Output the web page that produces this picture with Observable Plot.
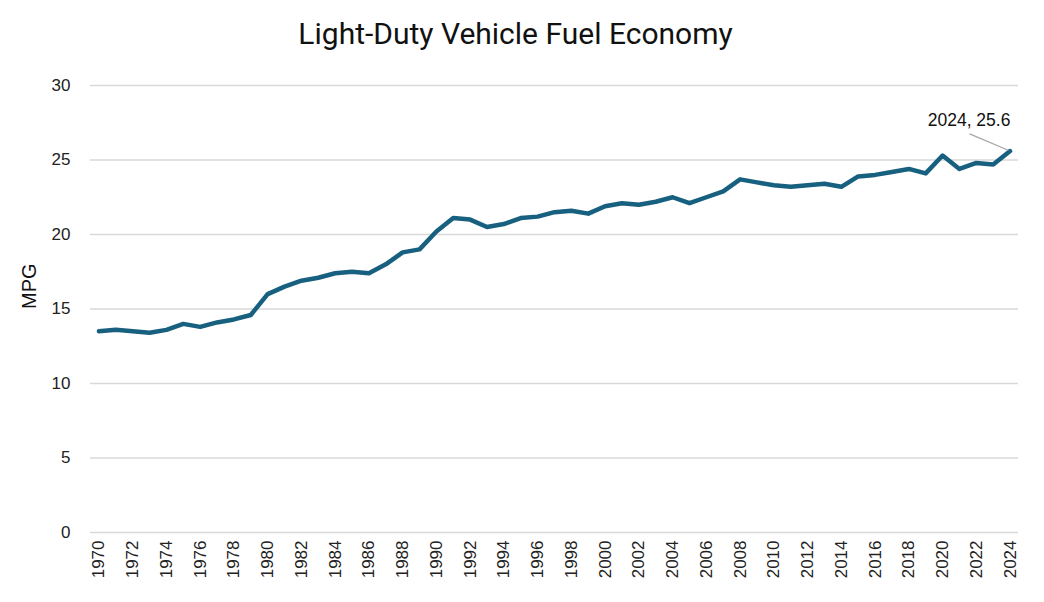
<!DOCTYPE html>
<html>
<head>
<meta charset="utf-8">
<script src="https://cdn.jsdelivr.net/npm/d3@7"></script>
<script src="https://cdn.jsdelivr.net/npm/@observablehq/plot@0.6"></script>
<style>
  html, body { margin: 0; padding: 0; background: #fff; }
  #wrap { width: 1044px; height: 602px; position: relative; font-family: "Liberation Sans", Arial, sans-serif; }
  #title { position: relative; height: 64px; text-align: center; }
  #title span { position: absolute; left: 0; right: 0; top: 16px; font-family: Roboto, "Open Sans", sans-serif; font-size: 30px; line-height: 35px; color: #111; padding-right: 13px; }
</style>
</head>
<body>
<div id="wrap">
  <div id="title"><span>Light-Duty Vehicle Fuel Economy</span></div>
  <div id="chart"></div>
</div>
<script>
const years = d3.range(1970, 2025);
const mpg = [
  13.5, 13.6, 13.5, 13.4, 13.6, 14.0, 13.8, 14.1, 14.3, 14.6,
  16.0, 16.5, 16.9, 17.1, 17.4, 17.5, 17.4, 18.0, 18.8, 19.0,
  20.2, 21.1, 21.0, 20.5, 20.7, 21.1, 21.2, 21.5, 21.6, 21.4,
  21.9, 22.1, 22.0, 22.2, 22.5, 22.1, 22.5, 22.9, 23.7, 23.5,
  23.3, 23.2, 23.3, 23.4, 23.2, 23.9, 24.0, 24.2, 24.4, 24.1,
  25.3, 24.4, 24.8, 24.7, 25.6
];
const xTicks = d3.range(1970, 2025, 2);
const yTicks = [0, 5, 10, 15, 20, 25, 30];

const data = years.map((y, i) => ({year: y, mpg: mpg[i]}));
const last = data[data.length - 1];
const labelText = `${last.year}, ${last.mpg}`;
const leader = [{x1: last.year - 2.4, y1: last.mpg + 1.15, x2: last.year - 0.1, y2: last.mpg + 0.05}];

const chart = Plot.plot({
  width: 1044,
  height: 538,
  marginLeft: 90,
  marginRight: 26,
  marginTop: 21,
  marginBottom: 70,
  style: {fontFamily: "'Liberation Sans', Arial, sans-serif", fontSize: "17px", color: "#222", background: "#fff"},
  x: {domain: [1969.5, 2024.5]},
  y: {domain: [0, 30]},
  marks: [
    Plot.gridY(yTicks, {stroke: "#d9d9d9", strokeOpacity: 1, strokeWidth: 1.3}),
    Plot.axisY(yTicks, {tickSize: 0, tickPadding: 20, fontSize: 17, label: null}),
    Plot.text(["MPG"], {frameAnchor: "left", dx: -60.5, rotate: -90, fontSize: 20, fill: "#111"}),
    Plot.axisX(xTicks, {tickSize: 0, tickPadding: 8, tickRotate: -90, tickFormat: d => String(d), fontSize: 17, label: null}),
    Plot.line(data, {x: "year", y: "mpg", stroke: "#17607f", strokeWidth: 4.5, strokeLinejoin: "round", strokeLinecap: "round"}),
    Plot.link(leader, {x1: "x1", y1: "y1", x2: "x2", y2: "y2", stroke: "#a6a6a6", strokeWidth: 1.2}),
    Plot.text([last], {x: "year", y: "mpg", text: () => labelText, dx: -41, dy: -31, fontSize: 17.5, fill: "#111"})
  ]
});
document.getElementById("chart").appendChild(chart);
</script>
</body>
</html>
